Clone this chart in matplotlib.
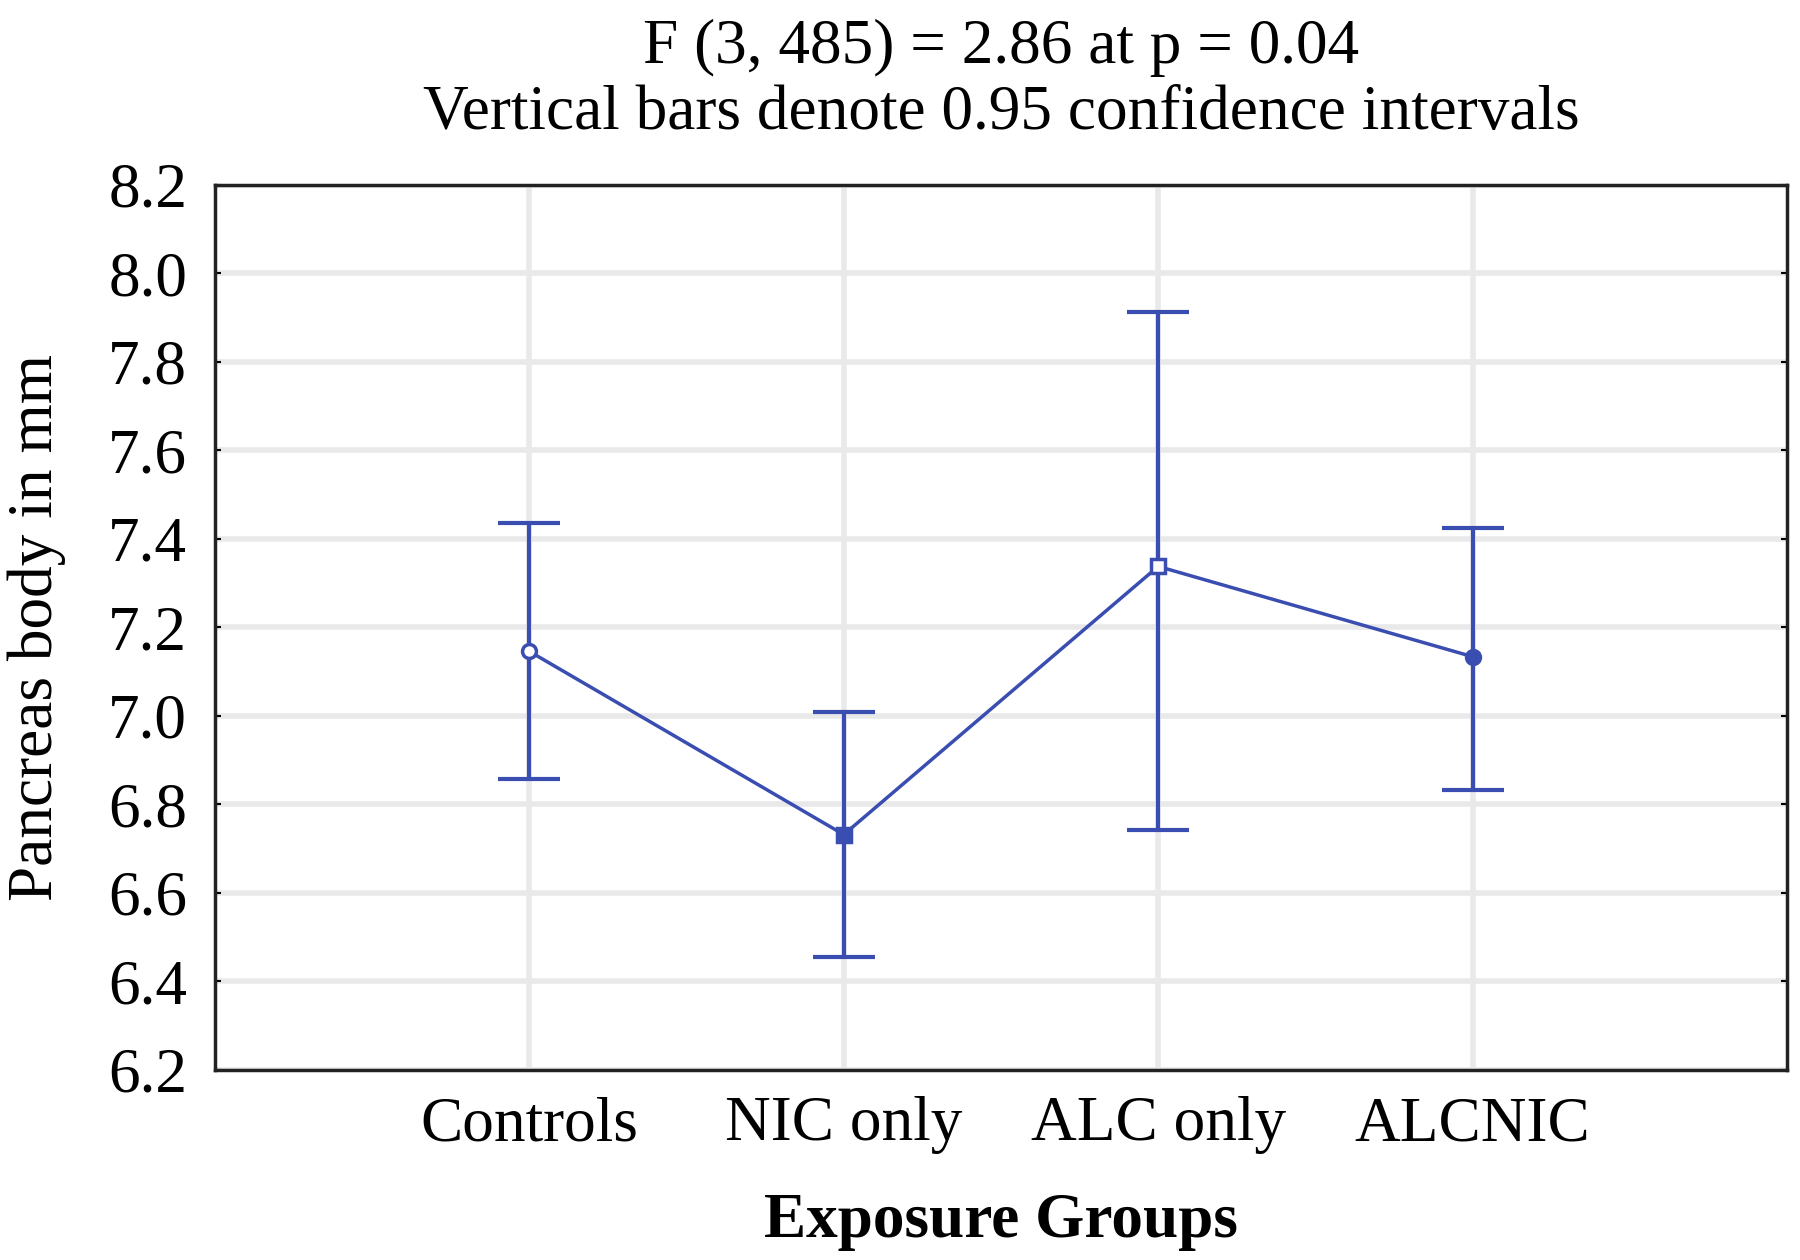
import matplotlib.pyplot as plt

# group means and 0.95 confidence limits
groups = ["Controls", "NIC only", "ALC only", "ALCNIC"]
means = [7.146, 6.732, 7.338, 7.134]
ci_low = [6.858, 6.456, 6.743, 6.833]
ci_high = [7.435, 7.010, 7.914, 7.424]
y_ticks = [6.2, 6.4, 6.6, 6.8, 7.0, 7.2, 7.4, 7.6, 7.8, 8.0, 8.2]

plt.rcParams['font.family'] = ['Liberation Serif', 'DejaVu Serif']
blue = '#3a4db0'
fs = 45.5

fig = plt.figure(figsize=(18, 12.6), dpi=100)
ax = fig.add_axes([0.1194, 0.1508, 0.8734, 0.7024])

x = list(range(1, len(groups) + 1))
err_low = [m - l for m, l in zip(means, ci_low)]
err_high = [h - m for m, h in zip(means, ci_high)]

ax.errorbar(x, means, yerr=[err_low, err_high], fmt='none', ecolor=blue,
            elinewidth=3, capsize=22, capthick=3, zorder=3)
ax.plot(x, means, color=blue, linewidth=2.5, zorder=3)

# marker style differs per group in the original
marker_styles = [('o', 'white'), ('s', blue), ('s', 'white'), ('o', blue)]
for xi, m, (mk, fc) in zip(x, means, marker_styles):
    ax.plot(xi, m, marker=mk, markersize=10, markerfacecolor=fc,
            markeredgecolor=blue, markeredgewidth=2.5, zorder=4)

ax.set_xlim(0, 5)
ax.set_ylim(6.2, 8.2)
ax.set_xticks(x)
ax.set_xticklabels(groups)
ax.set_yticks(y_ticks)
ax.set_yticklabels([f'{v:.1f}' for v in y_ticks])
ax.tick_params(axis='both', labelsize=fs, direction='in', length=4, width=1.5,
               right=True, top=False)
ax.tick_params(axis='y', pad=20)
ax.tick_params(axis='x', pad=19, length=0)

ax.grid(True, color='#e9e9e9', linewidth=4, zorder=0)
ax.set_axisbelow(True)
for sp in ax.spines.values():
    sp.set_linewidth(2.5)
    sp.set_color('#222222')

ax.set_ylabel('Pancreas body in mm', fontsize=fs, labelpad=30)
ax.set_xlabel('Exposure Groups', fontsize=fs, fontweight='bold', labelpad=28)
ax.set_title('F (3, 485) = 2.86 at p = 0.04\nVertical bars denote 0.95 confidence intervals',
             fontsize=fs, pad=40, linespacing=1.18)

fig.savefig('out.png', dpi=100, facecolor='white')
